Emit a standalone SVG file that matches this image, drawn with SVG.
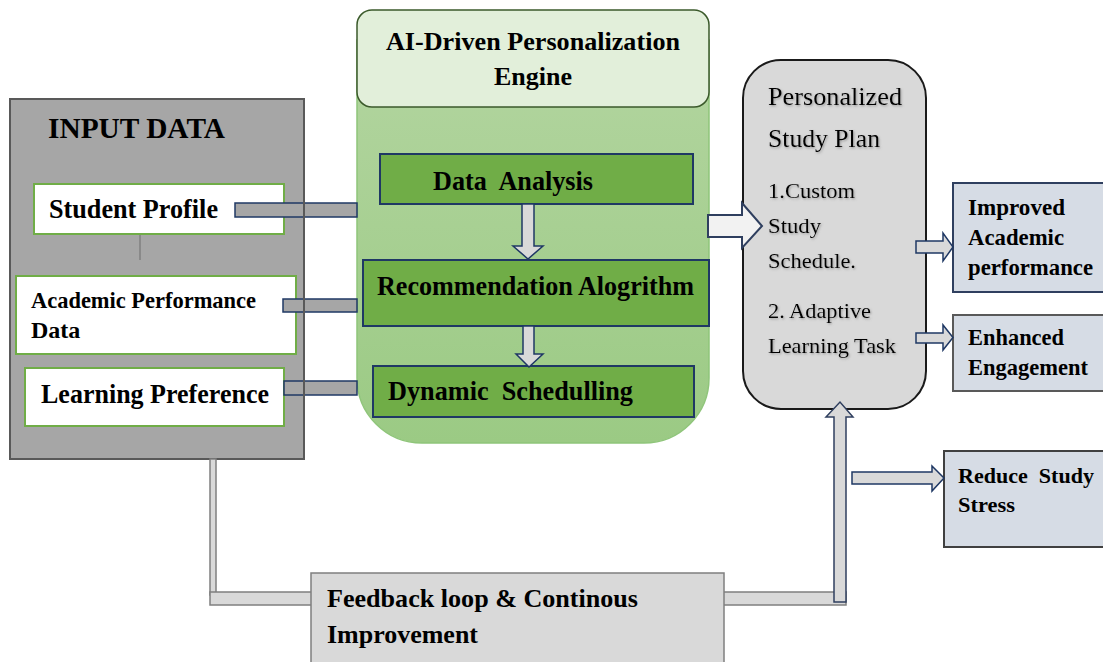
<svg xmlns="http://www.w3.org/2000/svg" width="1103" height="662" viewBox="0 0 1103 662">
<defs>
<linearGradient id="eng" x1="0" y1="0" x2="0" y2="1">
<stop offset="0" stop-color="#b3d5a0"/>
<stop offset="1" stop-color="#9bca84"/>
</linearGradient>
<filter id="sh" x="-5%" y="-20%" width="110%" height="140%">
<feDropShadow dx="1" dy="1.2" stdDeviation="0.8" flood-color="#666" flood-opacity="0.55"/>
</filter>
</defs>
<style>
text{font-family:"Liberation Serif","Times New Roman",serif;fill:#000}
.b{font-weight:bold}
.in{fill:#fff;stroke:#70ad47;stroke-width:2}
.gb{fill:#70ad47;stroke:#1f3864;stroke-width:2}
.bar{fill:#a6a6a6;stroke:#1f3864;stroke-width:1.5}
.arr{fill:#d9d9d9;stroke:#1f3864;stroke-width:1.5}
.out{fill:#d6dce5;stroke-width:2}
.fb{fill:#d9d9d9;stroke:#7f7f7f;stroke-width:1.5}
.p{font-size:22px}
.r{font-size:23px}
</style>

<g id="input-data">
<rect x="10" y="99" width="294" height="360" fill="#a6a6a6" stroke="#595959" stroke-width="2"/>
<text class="b" x="48" y="138" font-size="30" textLength="177" lengthAdjust="spacingAndGlyphs">INPUT DATA</text>
<line x1="140" y1="232" x2="140" y2="260" stroke="#7f7f7f" stroke-width="1.5"/>
</g>
<g id="student-profile">
<rect class="in" x="34" y="184" width="250" height="50"/>
<text class="b" x="49" y="218" font-size="28" textLength="169" lengthAdjust="spacingAndGlyphs">Student Profile</text>
</g>
<g id="academic-performance">
<rect class="in" x="16" y="276" width="280" height="78"/>
<text class="b" x="31" y="308" font-size="24" textLength="225" lengthAdjust="spacingAndGlyphs">Academic Performance</text>
<text class="b" x="31" y="338" font-size="24">Data</text>
</g>
<g id="learning-preference">
<rect class="in" x="25" y="368" width="259" height="58"/>
<text class="b" x="41" y="403" font-size="27" textLength="228" lengthAdjust="spacingAndGlyphs">Learning Preference</text>
</g>

<g id="engine">
<path d="M357,40 L357,378 A65,65 0 0 0 422,443 L644,443 A65,65 0 0 0 709,378 L709,40 Z" fill="url(#eng)" stroke="#8fc57a" stroke-width="1.5"/>
<rect x="357" y="10" width="352" height="97" rx="15" fill="#e2efda" stroke="#3b5a2b" stroke-width="1.5"/>
<text class="b" x="533" y="50" font-size="26" text-anchor="middle" textLength="294" lengthAdjust="spacingAndGlyphs">AI-Driven Personalization</text>
<text class="b" x="533" y="85" font-size="26" text-anchor="middle">Engine</text>
</g>
<g id="data-analysis">
<rect class="gb" x="380" y="154" width="313" height="50"/>
<text class="b" x="433" y="190" font-size="27" textLength="160" lengthAdjust="spacingAndGlyphs" xml:space="preserve">Data  Analysis</text>
</g>
<g id="recommendation">
<rect class="gb" x="363" y="260" width="346" height="66"/>
<text class="b" x="377" y="295" font-size="27" textLength="317" lengthAdjust="spacingAndGlyphs">Recommendation Alogrithm</text>
</g>
<g id="dynamic-scheduling">
<rect class="gb" x="373" y="366" width="321" height="51"/>
<text class="b" x="388" y="400" font-size="27" textLength="245" lengthAdjust="spacingAndGlyphs" xml:space="preserve">Dynamic  Schedulling</text>
</g>

<g id="study-plan">
<rect x="743" y="60" width="183" height="349" rx="38" fill="#d9d9d9" stroke="#1a1a1a" stroke-width="2"/>
<g filter="url(#sh)">
<text x="768" y="105" font-size="26" textLength="134" lengthAdjust="spacingAndGlyphs">Personalized</text>
<text x="768" y="147" font-size="26" textLength="112" lengthAdjust="spacingAndGlyphs">Study Plan</text>
<text class="p" x="768" y="198" textLength="87" lengthAdjust="spacingAndGlyphs">1.Custom</text>
<text class="p" x="768" y="233" textLength="53" lengthAdjust="spacingAndGlyphs">Study</text>
<text class="p" x="768" y="268" textLength="88" lengthAdjust="spacingAndGlyphs">Schedule.</text>
<text class="p" x="768" y="318" textLength="103" lengthAdjust="spacingAndGlyphs">2. Adaptive</text>
<text class="p" x="768" y="353" textLength="128" lengthAdjust="spacingAndGlyphs">Learning Task</text>
</g>
</g>

<g id="improved">
<rect class="out" x="953" y="183" width="170" height="109" stroke="#2f3f5f"/>
<text class="b r" x="968" y="215" textLength="97" lengthAdjust="spacingAndGlyphs">Improved</text>
<text class="b r" x="968" y="245" textLength="96" lengthAdjust="spacingAndGlyphs">Academic</text>
<text class="b r" x="968" y="275" textLength="125" lengthAdjust="spacingAndGlyphs">performance</text>
</g>
<g id="enhanced">
<rect class="out" x="953" y="315" width="170" height="76" stroke="#595959"/>
<text class="b r" x="968" y="345" textLength="96" lengthAdjust="spacingAndGlyphs">Enhanced</text>
<text class="b r" x="968" y="375" textLength="120" lengthAdjust="spacingAndGlyphs">Engagement</text>
</g>
<g id="reduce-stress">
<rect class="out" x="944" y="451" width="179" height="96" stroke="#404040" stroke-width="1.5"/>
<text class="b" x="958" y="483" font-size="22" textLength="136" lengthAdjust="spacingAndGlyphs" xml:space="preserve">Reduce  Study</text>
<text class="b" x="958" y="512" font-size="22" textLength="57" lengthAdjust="spacingAndGlyphs">Stress</text>
</g>

<g id="connectors">
<rect class="bar" x="235" y="203" width="122" height="14"/>
<rect class="bar" x="283" y="299" width="74" height="13"/>
<rect class="bar" x="284" y="381" width="73" height="14"/>
<line x1="304" y1="199" x2="304" y2="399" stroke="#595959" stroke-width="2"/>
<rect class="fb" x="210" y="459" width="6" height="136"/>
<rect class="fb" x="210" y="592" width="636" height="13"/>
<polygon fill="#d9d9d9" stroke="#2f3f5f" stroke-width="1.5" points="834,602 834,417 826,417 840,402 853,417 846,417 846,602"/>
<polygon class="arr" points="522,204 534,204 534,246 543,246 528,259 513,246 522,246"/>
<polygon class="arr" points="523,326 534,326 534,354 543,354 529,367 516,354 523,354"/>
<polygon fill="#f2f2f2" stroke="#2f3f5f" stroke-width="2" points="708,215 742,215 742,203 762,226 742,248 742,237 708,237"/>
<polygon class="arr" points="916,241 943,241 943,233 953,247 943,261 943,253 916,253"/>
<polygon class="arr" points="916,333 943,333 943,325 953,337.5 943,350 943,343 916,343"/>
<polygon class="arr" points="852,472 932,472 932,466 944,478 932,491 932,484 852,484"/>
</g>

<g id="feedback">
<rect class="fb" x="311" y="573" width="413" height="100"/>
<text class="b" x="327" y="607" font-size="26" textLength="311" lengthAdjust="spacingAndGlyphs">Feedback loop &amp; Continous</text>
<text class="b" x="327" y="643" font-size="26" textLength="151" lengthAdjust="spacingAndGlyphs">Improvement</text>
</g>
</svg>
